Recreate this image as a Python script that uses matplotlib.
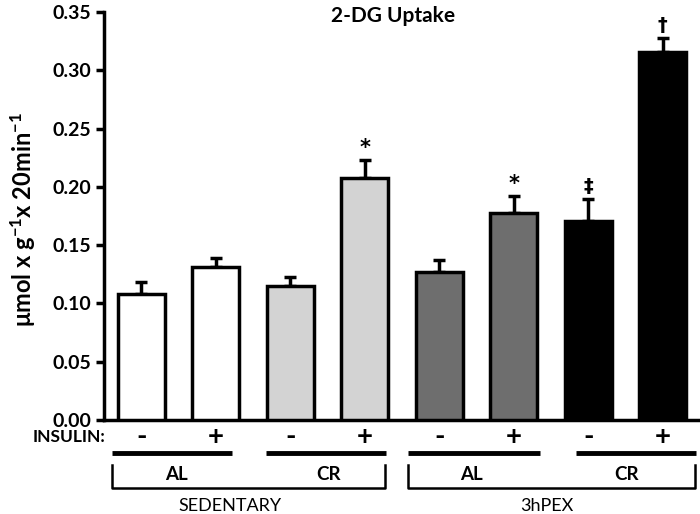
import matplotlib
matplotlib.use("Agg")
import matplotlib.pyplot as plt
from matplotlib.lines import Line2D

plt.rcParams['font.family'] = ['Lato', 'DejaVu Sans']
plt.rcParams['mathtext.fontset'] = 'custom'
plt.rcParams['mathtext.rm'] = 'Lato:bold'
plt.rcParams['mathtext.bf'] = 'Lato:bold'
plt.rcParams['mathtext.it'] = 'Lato:bold'

# Data
groups = ["SED AL -", "SED AL +", "SED CR -", "SED CR +", "PEX AL -", "PEX AL +", "PEX CR -", "PEX CR +"]
means = [0.108, 0.131, 0.115, 0.208, 0.127, 0.178, 0.171, 0.316]
sems = [0.010, 0.008, 0.008, 0.015, 0.010, 0.014, 0.019, 0.012]
colors = ["white", "white", "#d3d3d3", "#d3d3d3", "#6e6e6e", "#6e6e6e", "black", "black"]
insulin = ["-", "+", "-", "+", "-", "+", "-", "+"]
marks = ["", "", "", "*", "", "*", "\u2021", "\u2020"]
yticks = [0.00, 0.05, 0.10, 0.15, 0.20, 0.25, 0.30, 0.35]

W, H = 700, 514
fig = plt.figure(figsize=(7.0, 5.14), dpi=100)
ax = fig.add_axes([104 / W, 1 - 420 / H, (700 - 104) / W, (420 - 12) / H])

x = list(range(len(means)))
ax.bar(x, means, width=0.63, color=colors, edgecolor="black", linewidth=2.5, zorder=3)
ax.errorbar(x, means, yerr=[[0] * len(sems), sems], fmt="none", ecolor="black",
            elinewidth=2.5, capsize=4, capthick=2.5, zorder=2)
for xi, m, s, mk in zip(x, means, sems, marks):
    if mk:
        ax.text(xi, m + s + 0.002, mk, ha="center", va="bottom", fontsize=15 if mk == "*" else 14,
                fontweight="bold", family=["DejaVu Sans"], clip_on=False)

ax.set_xlim(-0.5, 7.5)
ax.set_ylim(0, 0.35)
ax.set_yticks(yticks)
ax.set_yticklabels([f"{t:.2f}" for t in yticks], fontsize=14, fontweight="bold")
ax.set_xticks([])
for s in ["top", "right"]:
    ax.spines[s].set_visible(False)
ax.spines["left"].set_linewidth(2.5)
ax.spines["bottom"].set_linewidth(2.5)
ax.tick_params(axis="y", width=2.5, length=6, pad=3)

def P(px, py):
    return (px / W, 1 - py / H)

fig.text(*P(393, 16), "2-DG Uptake", ha="center", va="center", fontsize=15, fontweight="bold")
fig.text(23 / W, 1 - 220 / H, r"μmol x g$^{-1}$x 20min$^{-1}$", rotation=90,
         ha="center", va="center", fontsize=17, fontweight="bold")

# insulin row
fig.text(*P(105, 437), "INSULIN:", ha="right", va="center", fontsize=12.5, fontweight="bold")
for xi, sg in zip(x, insulin):
    xp = ax.transData.transform((xi, 0))[0] / W
    fig.text(xp, 1 - 437 / H, sg, ha="center", va="center", fontsize=20, fontweight="bold")

# thick lines
for a, b in [(112, 232), (266, 386), (408, 540), (576, 696)]:
    fig.add_artist(Line2D([a / W, b / W], [1 - 453 / H] * 2, color="black", lw=3.5,
                          transform=fig.transFigure, solid_capstyle="butt"))
# brackets
for a, b in [(112, 385), (408, 695)]:
    fig.add_artist(Line2D([a / W, a / W, b / W, b / W],
                          [1 - 465 / H, 1 - 488 / H, 1 - 488 / H, 1 - 465 / H],
                          color="black", lw=1.8, transform=fig.transFigure))

for px_, txt in [(176, "AL"), (329, "CR"), (471, "AL"), (627, "CR")]:
    fig.text(*P(px_, 475), txt, ha="center", va="center", fontsize=13.5, fontweight="bold")
fig.text(*P(230, 506), "SEDENTARY", ha="center", va="center", fontsize=13)
fig.text(*P(547, 506), "3hPEX", ha="center", va="center", fontsize=13)

fig.savefig("out.png", dpi=100)
